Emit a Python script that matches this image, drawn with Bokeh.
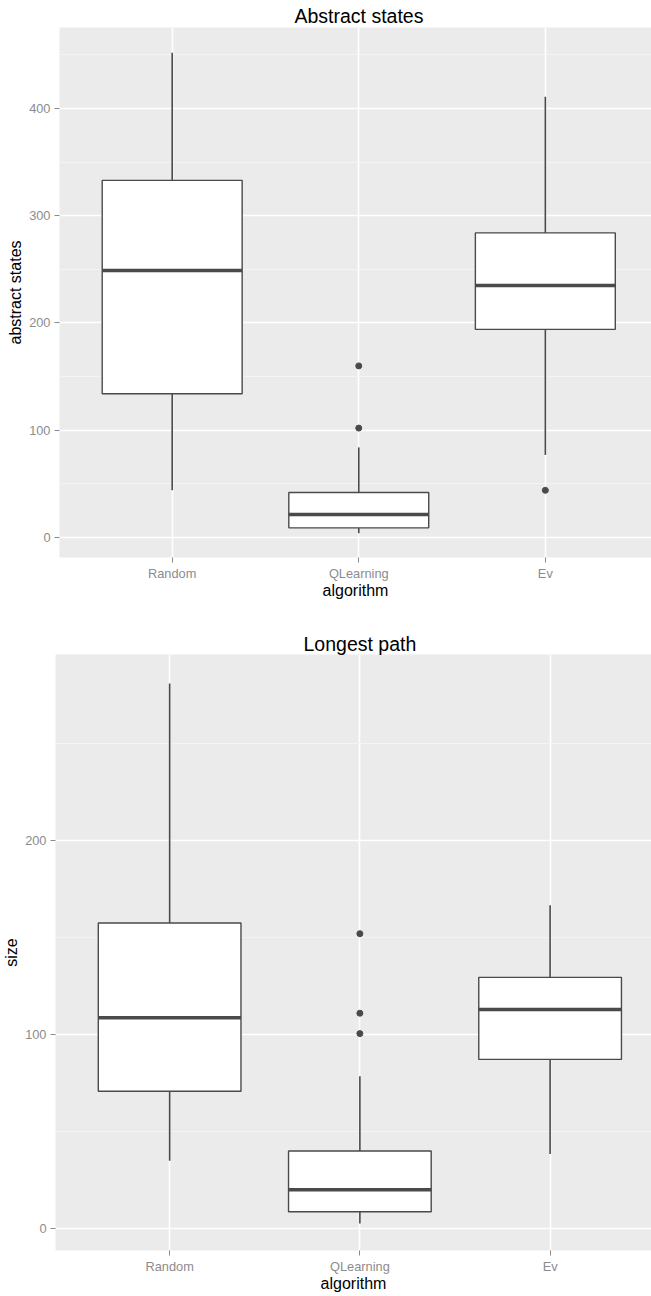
from bokeh.plotting import figure
from bokeh.models import FixedTicker, Range1d, ColumnDataSource
from bokeh.embed import file_html
from bokeh.resources import INLINE

categories = ["Random", "QLearning", "Ev"]

# Abstract states (box statistics)
abs_low = [44, 4, 77]
abs_q1 = [134, 9, 194]
abs_med = [249, 21.5, 235]
abs_q3 = [333, 42, 284]
abs_high = [452, 84, 411]
abs_out_cat = ["QLearning", "QLearning", "Ev"]
abs_out_val = [160, 102, 44]
abs_ticks = [0, 100, 200, 300, 400]
abs_minor = [50, 150, 250, 350, 450]

# Longest path
lp_low = [35, 2.6, 38.5]
lp_q1 = [70.8, 8.7, 87.2]
lp_med = [108.7, 20, 112.9]
lp_q3 = [157.5, 40, 129.5]
lp_high = [281, 78.5, 166.7]
lp_out_cat = ["QLearning", "QLearning", "QLearning"]
lp_out_val = [152, 111, 100.5]
lp_ticks = [0, 100, 200]
lp_minor = [50, 150, 250]

FONT = "Liberation Sans"
BOX_W = 0.75


def make_panel(title, ylabel, low, q1, med, q3, high, out_cat, out_val,
               ticks, minor, y_range, x_range, width, height,
               border_left, border_top, border_bottom, title_offset,
               title_standoff):
    pos = {c: i + 1 for i, c in enumerate(categories)}
    xs = [pos[c] for c in categories]
    src = ColumnDataSource(dict(
        x=xs, x0=[x - BOX_W / 2 for x in xs], x1=[x + BOX_W / 2 for x in xs],
        low=low, q1=q1, med=med, q3=q3, high=high))
    osrc = ColumnDataSource(dict(x=[pos[c] for c in out_cat], y=out_val))

    p = figure(width=width, height=height, output_backend="svg",
               toolbar_location=None, x_range=Range1d(*x_range),
               y_range=Range1d(*y_range), min_border_left=border_left,
               min_border_right=0, min_border_top=border_top,
               min_border_bottom=border_bottom)
    p.title.text = title
    p.title.align = "left"
    p.title.text_font = FONT
    p.title.text_font_size = "19.5px"
    p.title.text_font_style = "normal"
    p.title.text_color = "black"
    p.title.standoff = title_standoff
    p.title.offset = title_offset

    p.background_fill_color = "#EBEBEB"
    p.border_fill_color = "white"
    p.outline_line_color = None

    p.xaxis.ticker = FixedTicker(ticks=xs)
    p.xaxis.major_label_overrides = {pos[c]: c for c in categories}
    p.yaxis.ticker = FixedTicker(ticks=ticks, minor_ticks=minor)

    for ax in (p.xaxis, p.yaxis):
        ax.axis_line_color = None
        ax.major_tick_line_color = "#8A8A8A"
        ax.major_tick_line_width = 1
        ax.major_tick_in = 0
        ax.major_tick_out = 5
        ax.minor_tick_line_color = None
        ax.major_label_text_font = FONT
        ax.major_label_text_font_size = "12.8px"
        ax.major_label_text_color = "#8C8C8C"
        ax.axis_label_text_font = FONT
        ax.axis_label_text_font_size = "16px"
        ax.axis_label_text_font_style = "normal"
        ax.axis_label_text_color = "black"
    p.xaxis.axis_label = "algorithm"
    p.yaxis.axis_label = ylabel
    p.xaxis.major_label_standoff = 3
    p.xaxis.axis_label_standoff = -2
    p.yaxis.major_label_standoff = 4
    p.yaxis.axis_label_standoff = 2

    p.xgrid.grid_line_color = "white"
    p.xgrid.grid_line_width = 1.6
    p.ygrid.grid_line_color = "white"
    p.ygrid.grid_line_width = 1.6
    p.ygrid.minor_grid_line_color = "#F5F5F5"
    p.ygrid.minor_grid_line_width = 0.9

    line_c = "#4A4A4A"
    p.segment(x0="x", y0="q3", x1="x", y1="high", source=src,
              line_color=line_c, line_width=1.6)
    p.segment(x0="x", y0="q1", x1="x", y1="low", source=src,
              line_color=line_c, line_width=1.6)
    p.quad(left="x0", right="x1", bottom="q1", top="q3", source=src,
           fill_color="white", line_color=line_c, line_width=1.4)
    p.segment(x0="x0", y0="med", x1="x1", y1="med", source=src,
              line_color=line_c, line_width=3.4)
    p.scatter(x="x", y="y", source=osrc, size=6, fill_color=line_c,
              line_color=line_c)
    return p


p1 = make_panel("Abstract states", "abstract states", abs_low, abs_q1, abs_med,
                abs_q3, abs_high, abs_out_cat, abs_out_val, abs_ticks,
                abs_minor, (-18.65, 475.5), (0.396, 3.569), 651, 617,
                59, 27, 60, 235, 2)
p2 = make_panel("Longest path", "size", lp_low, lp_q1, lp_med, lp_q3, lp_high,
                lp_out_cat, lp_out_val, lp_ticks, lp_minor, (-11.3, 295.9),
                (0.400, 3.533), 651, 677, 53, 37, 44, 248, 0)

open("out.html", "w").write(file_html([p1, p2], INLINE))
